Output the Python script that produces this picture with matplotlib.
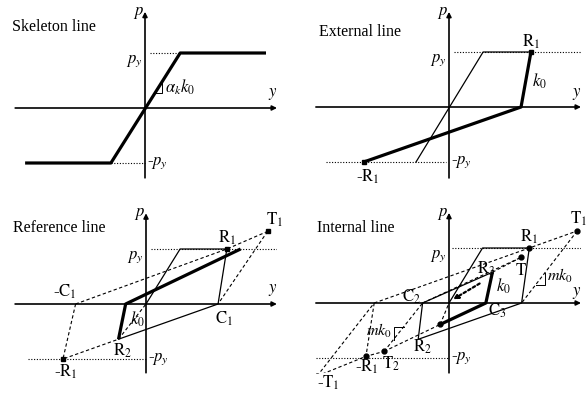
import matplotlib
matplotlib.use("Agg")
import matplotlib.pyplot as plt

plt.rcParams["font.family"] = ["Liberation Serif", "DejaVu Serif"]
plt.rcParams["mathtext.fontset"] = "stix"

W, H, DPI = 588, 399, 100
UNIT = 55.0  # pixels per unit of p_y

# ---------------- data (y = displacement, p = force, p_y = 1) ----------------
# Skeleton line
SKEL_Y = [-2.18, -0.62, 0.64, 2.2]
SKEL_P = [-1, -1, 1, 1]

# External line
EXT_SKEL_Y = [-0.6, 0.62, 1.49]
EXT_SKEL_P = [-1, 1, 1]
EXT_PATH_Y = [1.49, 1.31, -1.55]
EXT_PATH_P = [1, 0, -1]

# Reference line
REF_THIN_Y = [0, 0.62, 1.47, 1.31, -0.5]
REF_THIN_P = [0, 1, 1, 0, -0.64]
REF_THICK_Y = [-0.5, -0.37, 1.72]
REF_THICK_P = [-0.64, 0, 1]
REF_DASH = [
    ([-1.28, 1.47, 2.21], [0, 1, 1.32]),
    ([2.21, 1.31], [1.32, 0]),
    ([-1.28, -1.51, -0.5], [0, -1, -0.64]),
    ([-0.5, 0], [-0.64, 0]),
]
REF_PTS_Y = [1.47, 2.21, -1.51]
REF_PTS_P = [1, 1.32, -1]

# Internal line
INT_THIN_Y = [0, 0.61, 1.46, 1.32, -0.56, -0.48, 0.79]
INT_THIN_P = [0, 1, 1, 0, -0.66, 0, 0.56]
INT_THICK_Y = [0.79, 0.67, -0.16]
INT_THICK_P = [0.56, 0, -0.39]
INT_DASH = [
    ([-1.36, 1.46, 2.33], [0, 1, 1.31]),
    ([2.33, 1.32], [1.31, 0]),
    ([-2.4, -1.36], [-1.33, 0]),
    ([-1.36, -1.51], [0, -0.97]),
    ([-2.4, -1.51, -1.18], [-1.33, -0.97, -0.88]),
    ([-1.18, -0.16], [-0.88, -0.39]),
    ([-1.18, -0.48], [-0.88, 0]),
    ([-0.48, 1.31], [0, 0.83]),
    ([0.79, 1.31], [0.56, 0.83]),
    ([-0.16, 0], [-0.39, 0]),
]
INT_RETURN_Y = [0.6, 0.03]
INT_RETURN_P = [0.38, 0.04]
INT_PTS_Y = [1.46, 2.33, 1.31, -1.51, -1.18, -2.4, -0.16]
INT_PTS_P = [1, 1.31, 0.83, -0.97, -0.88, -1.33, -0.39]

fig = plt.figure(figsize=(W / DPI, H / DPI), dpi=DPI)


def panel(origin, yr, pr, ylab_p=0.1):
    ox, oy = origin
    left = (ox + yr[0] * UNIT) / W
    bottom = (H - (oy - pr[0] * UNIT)) / H
    ax = fig.add_axes([left, bottom, (yr[1] - yr[0]) * UNIT / W,
                       (pr[1] - pr[0]) * UNIT / H])
    ax.set_xlim(yr)
    ax.set_ylim(pr)
    ax.axis("off")
    arrow = dict(arrowstyle="-|>", lw=1.2, color="k", mutation_scale=7,
                 shrinkA=0, shrinkB=0)
    ax.annotate("", xy=(yr[1], 0), xytext=(yr[0], 0), arrowprops=arrow)
    ax.annotate("", xy=(0, pr[1]), xytext=(0, pr[0]), arrowprops=arrow)
    ax.text(-0.02, pr[1] - 0.02, "$p$", fontsize=12, ha="right", va="center")
    ax.text(yr[1] - 0.08, ylab_p, "$y$", fontsize=12, ha="center", va="bottom")
    return ax


GUIDE = dict(color="k", lw=0.8, ls=(0, (1, 1.5)))
THIN = dict(color="k", lw=0.9)
THICK = dict(color="k", lw=2.3, solid_capstyle="butt")
DASH = dict(color="k", lw=0.8, ls=(0, (3, 2.2)))
LBL = dict(fontsize=11.5)


def py_labels(ax, up=1.0, dn=-1.0):
    ax.text(-0.05, up, "$p_y$", fontsize=12, ha="right", va="top")
    ax.text(0.04, dn, "-$p_y$", fontsize=12, ha="left", va="center")


# ---- Skeleton line ----
ax1 = panel((145, 108), (-2.36, 2.4), (-1.27, 1.75))
ax1.plot([0.09, 0.64], [1, 1], **GUIDE)
ax1.plot([-0.62, 0], [-1, -1], **GUIDE)
ax1.plot(SKEL_Y, SKEL_P, **THICK)
ax1.plot([0.17, 0.3, 0.3], [0.27, 0.27, 0.48], color="k", lw=0.7)
ax1.text(0.36, 0.38, r"$\alpha_k k_0$", fontsize=12, ha="left", va="center")
ax1.text(-2.42, 1.47, "Skeleton line", ha="left", va="center", **LBL)
py_labels(ax1)

# ---- External line ----
ax2 = panel((449, 107), (-2.42, 2.4), (-1.29, 1.73))
ax2.plot([0.09, 2.4], [1, 1], **GUIDE)
ax2.plot([-2.24, -0.05], [-1, -1], **GUIDE)
ax2.plot(EXT_SKEL_Y, EXT_SKEL_P, **THIN)
ax2.plot(EXT_PATH_Y, EXT_PATH_P, **THICK)
ax2.plot([EXT_PATH_Y[0], EXT_PATH_Y[-1]], [EXT_PATH_P[0], EXT_PATH_P[-1]],
         "ks", ms=3)
ax2.text(1.5, 1.02, r"$\mathrm{R}_1$", fontsize=12, ha="center", va="bottom")
ax2.text(1.5, 0.46, "$k_0$", fontsize=12, ha="left", va="center")
ax2.text(-1.47, -1.1, r"-$\mathrm{R}_1$", fontsize=12, ha="center", va="top")
ax2.text(-2.36, 1.36, "External line", ha="left", va="center", **LBL)
py_labels(ax2)

# ---- Reference line ----
ax3 = panel((146, 304), (-2.38, 2.38), (-1.25, 1.65))
ax3.plot([0.09, 2.4], [1, 1], **GUIDE)
ax3.plot([-2.15, 0], [-1, -1], **GUIDE)
for ys, ps in REF_DASH:
    ax3.plot(ys, ps, **DASH)
ax3.plot(REF_THIN_Y, REF_THIN_P, **THIN)
ax3.plot(REF_THICK_Y, REF_THICK_P, **THICK)
ax3.plot(REF_PTS_Y, REF_PTS_P, "ks", ms=3)
ax3.text(1.47, 1.04, r"$\mathrm{R}_1$", fontsize=12, ha="center", va="bottom")
ax3.text(2.33, 1.36, r"$\mathrm{T}_1$", fontsize=12, ha="center", va="bottom")
ax3.text(-1.47, 0.06, r"-$\mathrm{C}_1$", fontsize=12, ha="center", va="bottom")
ax3.text(1.42, -0.1, r"$\mathrm{C}_1$", fontsize=12, ha="center", va="top")
ax3.text(-0.3, -0.27, "$k_0$", fontsize=12, ha="left", va="center")
ax3.text(-0.42, -0.68, r"$\mathrm{R}_2$", fontsize=12, ha="center", va="top")
ax3.text(-1.46, -1.06, r"-$\mathrm{R}_1$", fontsize=12, ha="center", va="top")
ax3.text(-2.42, 1.38, "Reference line", ha="left", va="center", **LBL)
py_labels(ax3)

# ---- Internal line ----
ax4 = panel((449, 303), (-2.42, 2.4), (-1.27, 1.64), ylab_p=0.04)
ax4.plot([0.05, 2.4], [1, 1], **GUIDE)
ax4.plot([-2.42, 0], [-1, -1], **GUIDE)
for ys, ps in INT_DASH:
    ax4.plot(ys, ps, **DASH)
ax4.plot(INT_THIN_Y, INT_THIN_P, **THIN)
ax4.plot(INT_THICK_Y, INT_THICK_P, **THICK)
ax4.annotate("", xy=(INT_RETURN_Y[1], INT_RETURN_P[1]),
             xytext=(INT_RETURN_Y[0], INT_RETURN_P[0]),
             arrowprops=dict(arrowstyle="-|>", lw=1.6, ls=(0, (1.2, 1.2)),
                             color="k", mutation_scale=7))
ax4.plot(INT_PTS_Y, INT_PTS_P, "ko", ms=3.5)
ax4.plot([1.59, 1.75, 1.75], [0.33, 0.33, 0.55], color="k", lw=0.7)
ax4.plot([-1.0, -1.0, -0.82], [-0.67, -0.43, -0.43], color="k", lw=0.7)
ax4.text(1.45, 1.03, r"$\mathrm{R}_1$", fontsize=12, ha="center", va="bottom")
ax4.text(2.35, 1.36, r"$\mathrm{T}_1$", fontsize=12, ha="center", va="bottom")
ax4.text(0.68, 0.62, r"$\mathrm{R}_3$", fontsize=12, ha="center", va="center")
ax4.text(1.3, 0.58, r"$\mathrm{T}$", fontsize=12, ha="center", va="center")
ax4.text(0.86, 0.3, "$k_0$", fontsize=12, ha="left", va="center")
ax4.text(1.79, 0.5, "$mk_0$", fontsize=11.5, ha="left", va="center")
ax4.text(-0.68, 0.12, r"$\mathrm{C}_2$", fontsize=12, ha="center", va="center")
ax4.text(0.88, -0.14, r"$\mathrm{C}_3$", fontsize=12, ha="center", va="center")
ax4.text(-1.03, -0.5, "$mk_0$", fontsize=11.5, ha="right", va="center")
ax4.text(-0.49, -0.8, r"$\mathrm{R}_2$", fontsize=12, ha="center", va="center")
ax4.text(-1.05, -1.1, r"$\mathrm{T}_2$", fontsize=12, ha="center", va="center")
ax4.text(-1.49, -1.16, r"-$\mathrm{R}_1$", fontsize=12, ha="center", va="center")
ax4.text(-2.2, -1.46, r"-$\mathrm{T}_1$", fontsize=12, ha="center", va="center")
ax4.text(-2.4, 1.36, "Internal line", ha="left", va="center", **LBL)
py_labels(ax4)

fig.savefig("out.png", dpi=DPI, facecolor="white")
